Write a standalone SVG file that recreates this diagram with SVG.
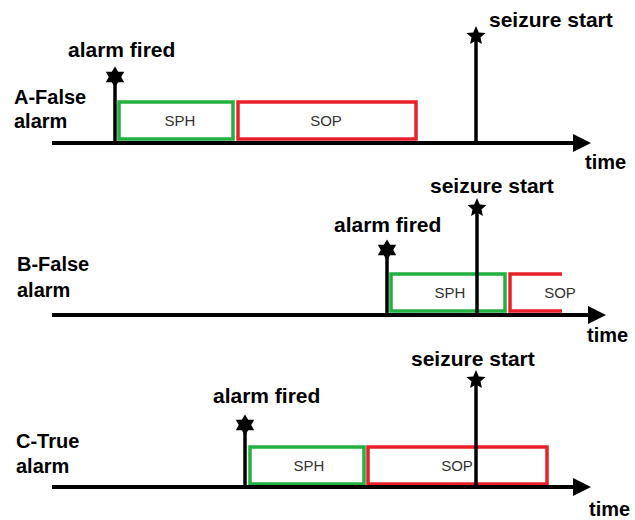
<svg xmlns="http://www.w3.org/2000/svg" width="635" height="520" viewBox="0 0 635 520">
<style>
.lbl{font-family:"Liberation Sans",Arial,sans-serif;font-weight:bold;font-size:21px;fill:#000}
.side{font-family:"Liberation Sans",Arial,sans-serif;font-weight:bold;font-size:20px;fill:#000}
.box{font-family:"Liberation Sans",Arial,sans-serif;font-size:15px;fill:#333;text-anchor:middle}
.sph{fill:#fff;stroke:#22b040;stroke-width:3.5}
.sop{fill:#fff;stroke:#e8202a;stroke-width:3.5}
.axis{stroke:#000;stroke-width:4;fill:none}
.tick{stroke:#000;stroke-width:3.5;fill:none}
</style>
<defs>
<polygon id="star6" points="0,-10.5 3.2,-5.2 9.2,-5.3 6.2,0 9.2,5.3 3.2,5.2 0,10.5 -3.2,5.2 -9.2,5.3 -6.2,0 -9.2,-5.3 -3.2,-5.2" fill="#000"/>
<polygon id="star5" points="0,-10 2.8,-3.6 9.5,-3.1 4.5,1.4 5.9,8.1 0,4.6 -5.9,8.1 -4.5,1.4 -9.5,-3.1 -2.8,-3.6" fill="#000"/>
</defs>
<rect width="635" height="520" fill="#fff"/>

<!-- Panel A -->
<g id="panelA-label"><text class="side" x="14" y="104">A-False</text><text class="side" x="14" y="128">alarm</text></g>
<g id="A-SPH"><rect class="sph" x="119" y="102" width="114" height="37"/><text class="box" x="180" y="126">SPH</text></g>
<g id="A-SOP"><rect class="sop" x="238" y="102" width="178" height="37"/><text class="box" x="326" y="126">SOP</text></g>
<g id="A-connectors">
<line class="axis" x1="52" y1="143" x2="576" y2="143"/>
<polygon points="573,134 591,143 573,152" fill="#000"/>
<line class="tick" x1="115" y1="143" x2="115" y2="80"/>
<line class="tick" x1="476" y1="143" x2="476" y2="38"/>
</g>
<g id="A-alarm"><use href="#star6" x="115" y="77"/><text class="lbl" x="68" y="57">alarm fired</text></g>
<g id="A-seizure"><use href="#star5" x="476" y="36"/><text class="lbl" x="489" y="27">seizure start</text></g>
<g id="A-time"><text class="side" x="585" y="169">time</text></g>

<!-- Panel B -->
<g id="panelB-label"><text class="side" x="17" y="271">B-False</text><text class="side" x="17" y="297">alarm</text></g>
<g id="B-SPH"><rect class="sph" x="391" y="274" width="114" height="37"/><text class="box" x="450" y="298">SPH</text></g>
<g id="B-SOP"><polyline class="sop" fill="none" points="562,274 510,274 510,311 562,311"/><text class="box" x="560" y="298">SOP</text></g>
<g id="B-connectors">
<line class="axis" x1="52" y1="315" x2="591" y2="315"/>
<polygon points="588,306 606,315 588,324" fill="#000"/>
<line class="tick" x1="387" y1="315" x2="387" y2="253"/>
<line class="tick" x1="477" y1="315" x2="477" y2="211"/>
</g>
<g id="B-alarm"><use href="#star6" x="387" y="250"/><text class="lbl" x="334" y="232">alarm fired</text></g>
<g id="B-seizure"><use href="#star5" x="477" y="208"/><text class="lbl" x="430" y="193">seizure start</text></g>
<g id="B-time"><text class="side" x="587" y="342">time</text></g>

<!-- Panel C -->
<g id="panelC-label"><text class="side" x="16" y="448">C-True</text><text class="side" x="16" y="473">alarm</text></g>
<g id="C-SPH"><rect class="sph" x="250" y="447" width="114" height="37"/><text class="box" x="309" y="471">SPH</text></g>
<g id="C-SOP"><rect class="sop" x="368" y="447" width="179" height="37"/><text class="box" x="457" y="471">SOP</text></g>
<g id="C-connectors">
<line class="axis" x1="52" y1="487" x2="576" y2="487"/>
<polygon points="573,478 591,487 573,496" fill="#000"/>
<line class="tick" x1="245" y1="487" x2="245" y2="428"/>
<line class="tick" x1="476" y1="487" x2="476" y2="383"/>
</g>
<g id="C-alarm"><use href="#star6" x="245" y="425"/><text class="lbl" x="213" y="403">alarm fired</text></g>
<g id="C-seizure"><use href="#star5" x="476" y="380"/><text class="lbl" x="411" y="366">seizure start</text></g>
<g id="C-time"><text class="side" x="589" y="516">time</text></g>
</svg>
